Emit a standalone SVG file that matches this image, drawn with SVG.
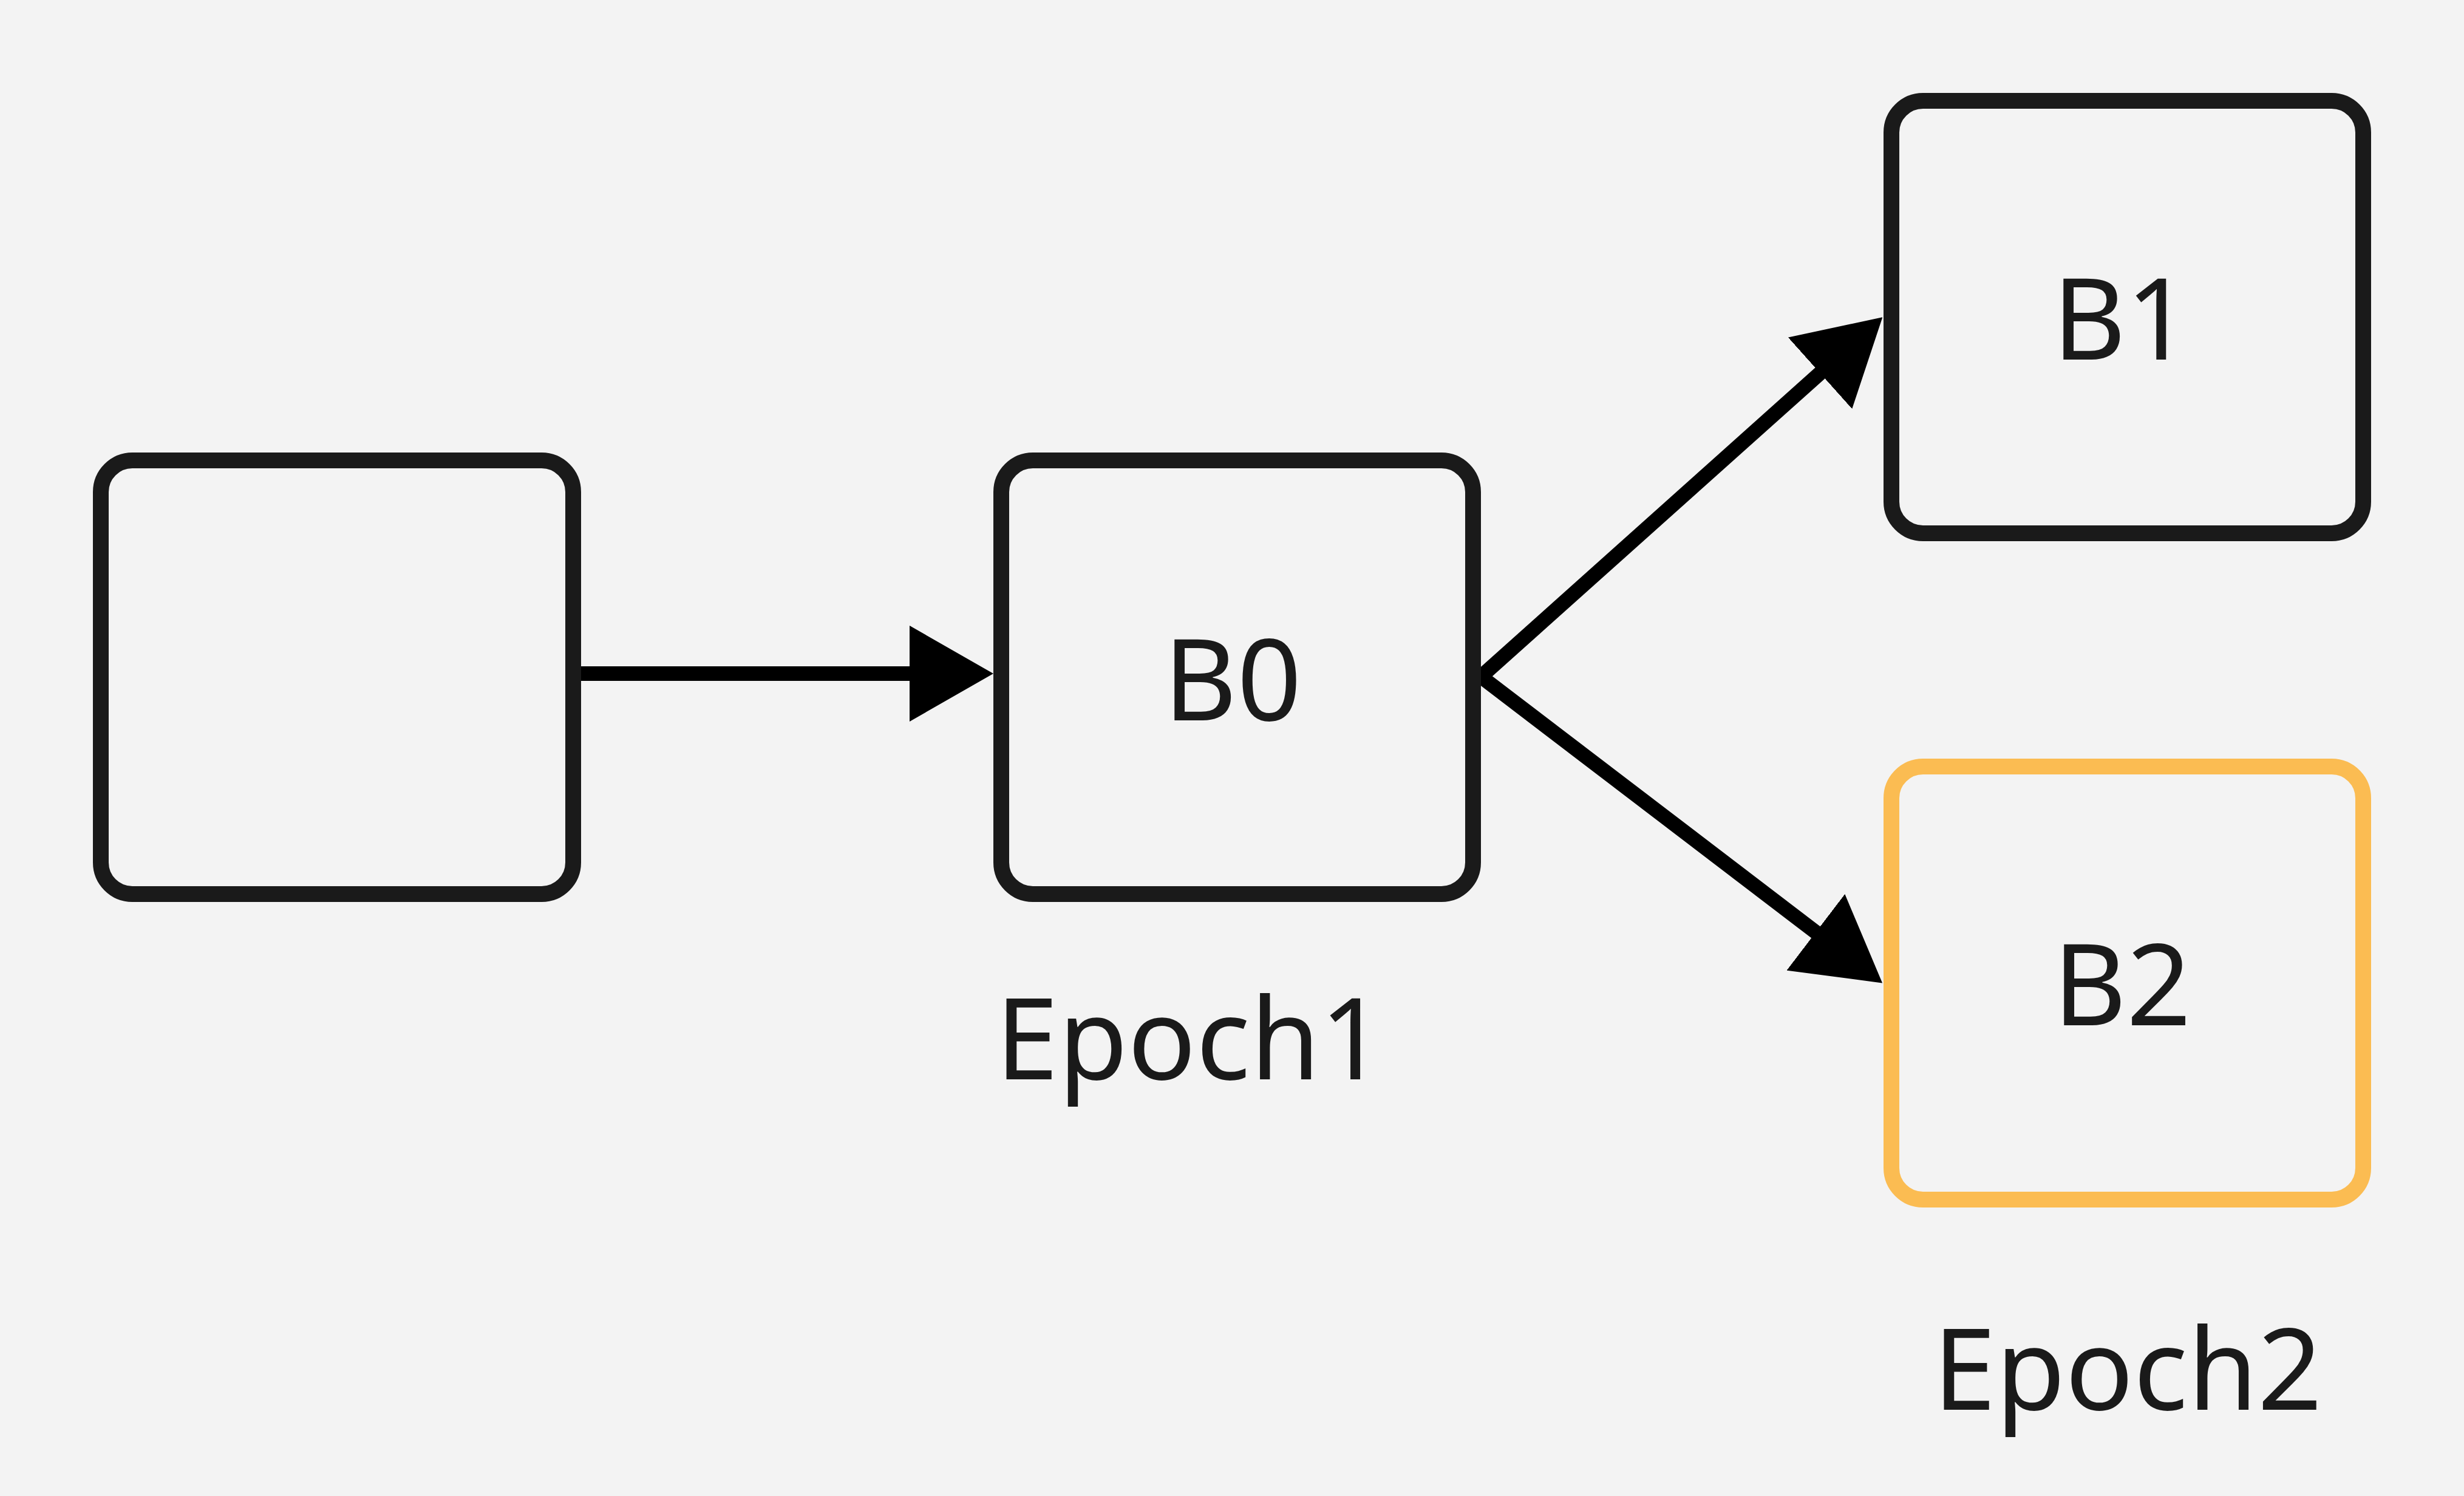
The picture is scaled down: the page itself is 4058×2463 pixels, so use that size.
<svg xmlns="http://www.w3.org/2000/svg" width="4058" height="2463" viewBox="0 0 4058 2463">
<defs>
<style>
.box{fill:none;stroke:#1a1a1a;stroke-width:26}
.hl{stroke:#fbbc52}
.edge{fill:none;stroke:#000;stroke-width:24}
.lbl{font-family:"Noto Sans","Open Sans",sans-serif;font-size:186px;fill:#1a1a1a;text-anchor:middle}
</style>
<marker id="ah" viewBox="0 0 138 158" refX="2" refY="79" markerWidth="138" markerHeight="158" markerUnits="userSpaceOnUse" orient="auto">
<path d="M0,0 L138,79 L0,158 z" fill="#000"/>
</marker>
</defs>
<rect width="4058" height="2463" fill="#f3f3f3"/>
<g id="connectors">
<path class="edge" d="M957,1109 L1500,1109" marker-end="url(#ah)"/>
<path class="edge" d="M2439,1114 L2999,613" marker-end="url(#ah)"/>
<path class="edge" d="M2439,1114 L2992,1536" marker-end="url(#ah)"/>
</g>
<g id="node-start">
<rect class="box" x="166" y="758" width="778" height="714" rx="52"/>
</g>
<g id="node-B0">
<rect class="box" x="1649" y="758" width="777" height="714" rx="52"/>
<text class="lbl" x="2030" y="1186">B0</text>
</g>
<g id="node-B1">
<rect class="box" x="3115" y="166" width="777" height="712" rx="52"/>
<text class="lbl" x="3494" y="592">B1</text>
</g>
<g id="node-B2">
<rect class="box hl" x="3115" y="1262" width="777" height="713" rx="52"/>
<text class="lbl" x="3495" y="1688">B2</text>
</g>
<g id="label-epoch1">
<text class="lbl" x="1960" y="1777">Epoch1</text>
</g>
<g id="label-epoch2">
<text class="lbl" x="3504" y="2321">Epoch2</text>
</g>
</svg>
